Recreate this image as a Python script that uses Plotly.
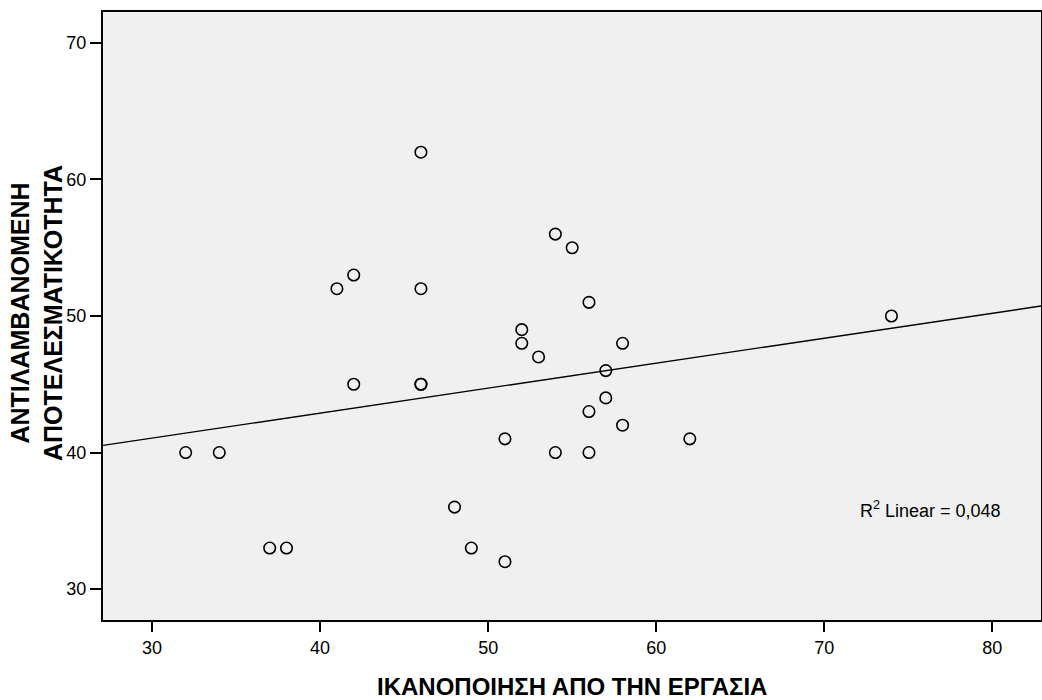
import numpy as np
import plotly.graph_objects as go

x_satisfaction = [32, 34, 37, 38, 41, 42, 42, 46, 46, 46, 46, 48, 49, 51, 51,
                  52, 52, 53, 54, 54, 55, 56, 56, 56, 57, 57, 58, 58, 62, 74]
y_efficacy = [40, 40, 33, 33, 52, 53, 45, 62, 52, 45, 45, 36, 33, 32, 41,
              49, 48, 47, 56, 40, 55, 51, 43, 40, 46, 44, 48, 42, 41, 50]
x_ticks = [30, 40, 50, 60, 70, 80]
y_ticks = [30, 40, 50, 60, 70]
x_title = "ΙΚΑΝΟΠΟΙΗΣΗ ΑΠΟ ΤΗΝ ΕΡΓΑΣΙΑ"
y_title = "ΑΝΤΙΛΑΜΒΑΝΟΜΕΝΗ<br>ΑΠΟΤΕΛΕΣΜΑΤΙΚΟΤΗΤΑ"
r2_label = "R<sup>2</sup> Linear = 0,048"

xr = [27.08, 82.9]
yr = [27.73, 72.27]

slope, intercept = np.polyfit(x_satisfaction, y_efficacy, 1)
line_x = np.array(xr)
line_y = slope * line_x + intercept

W, H = 1042, 700
ML, MR, MT, MB = 103, 1, 12, 80
pw, ph = W - ML - MR, H - MT - MB

fig = go.Figure()
fig.add_trace(go.Scatter(x=line_x, y=line_y, mode="lines",
                         line=dict(color="black", width=1.4),
                         hoverinfo="skip", showlegend=False))
fig.add_trace(go.Scatter(x=x_satisfaction, y=y_efficacy, mode="markers",
                         marker=dict(symbol="circle", size=11.5,
                                     color="rgba(0,0,0,0)",
                                     line=dict(color="black", width=1.6)),
                         showlegend=False))

fig.add_annotation(x=(1003 - ML) / pw, y=1 - (509 - MT) / ph, xref="paper", yref="paper",
                   text=r2_label, showarrow=False, xanchor="right", yanchor="middle",
                   font=dict(family="Liberation Sans, Arial", size=18, color="black"))
fig.add_annotation(x=0.5, y=-(686 - MT - ph) / ph, xref="paper", yref="paper",
                   text="<b>" + x_title + "</b>", showarrow=False,
                   xanchor="center", yanchor="middle",
                   font=dict(family="Liberation Sans, Arial", size=24, color="black"))
fig.add_annotation(x=-(ML - 36) / pw, y=1 - (313 - MT) / ph, xref="paper", yref="paper",
                   text="<b>" + y_title + "</b>", showarrow=False, textangle=-90,
                   xanchor="center", yanchor="middle",
                   font=dict(family="Liberation Sans, Arial", size=25, color="black"))

fig.update_layout(
    width=W, height=H,
    margin=dict(l=ML, r=MR, t=MT, b=MB, autoexpand=False),
    paper_bgcolor="white", plot_bgcolor="#f0f0f0",
    font=dict(family="Liberation Sans, Arial", color="black"),
)
fig.update_xaxes(range=xr, tickvals=x_ticks, showgrid=False, zeroline=False,
                 showline=True, mirror=True, linecolor="black", linewidth=2,
                 ticks="outside", ticklen=10, tickwidth=2, tickcolor="black",
                 automargin=False,
                 tickfont=dict(family="Liberation Sans, Arial", size=18))
fig.update_yaxes(range=yr, tickvals=y_ticks, showgrid=False, zeroline=False,
                 showline=True, mirror=True, linecolor="black", linewidth=2,
                 ticks="outside", ticklen=11, tickwidth=2, tickcolor="black",
                 automargin=False,
                 tickfont=dict(family="Liberation Sans, Arial", size=18))

fig.write_html("out.html", config={"displayModeBar": False},
               post_script="document.body.style.margin='0';document.body.style.overflow='hidden';")
